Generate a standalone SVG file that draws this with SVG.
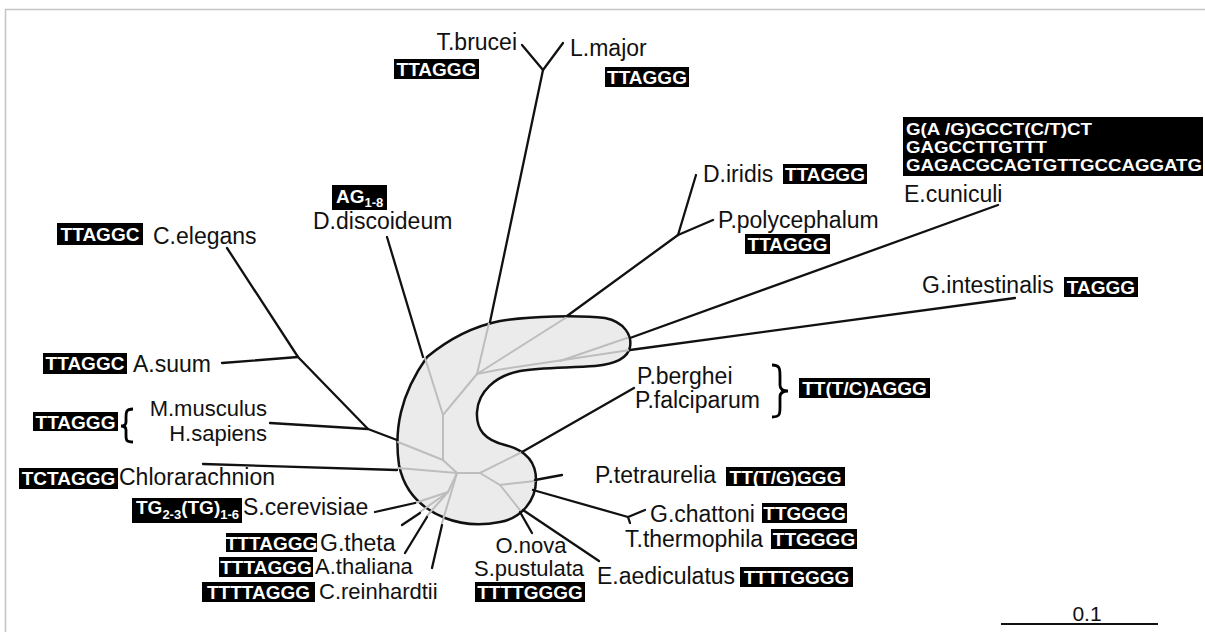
<svg xmlns="http://www.w3.org/2000/svg" width="1205" height="632" viewBox="0 0 1205 632">
<style>
.lbl{font-family:"Liberation Sans",Arial,sans-serif;font-size:23px;fill:#111}
.sm{font-size:22px}
.tg rect{fill:#000}
.tg text{font-family:"Liberation Sans",Arial,sans-serif;font-size:19px;font-weight:bold;fill:#fff;text-anchor:middle}
.br{stroke:#111;stroke-width:2.3;fill:none;stroke-linecap:round;stroke-linejoin:round}
.in{stroke:#bdbdbd;stroke-width:2;fill:none;stroke-linecap:round}
.bd{stroke:#c4c4c4;stroke-width:1.5}
.brace{stroke:#000;stroke-width:2.8;fill:none}
</style>
<rect width="1205" height="632" fill="#fff"/>
<g id="frame">
<line class="bd" x1="5" y1="9.5" x2="1205" y2="9.5"/>
<line class="bd" x1="5.5" y1="9" x2="5.5" y2="632"/>
</g>
<g id="core">
<path d="M427 357 C450 338 475 326 500 321 C530 316 580 315 605 318 C625 322 632 336 630 347 C628 358 615 364 595 366 C570 368 540 367 520 371 C495 376 478 392 477 412 C476 430 485 440 505 445 C525 450 536 462 536 480 C536 500 522 518 500 522 C480 526 460 524 445 518 C420 508 404 490 399 465 C394 430 400 395 427 357 Z" fill="#ebebeb" stroke="#111" stroke-width="2.5"/>
<g class="in">
<polyline points="425,358 443,415 477,374 489,323"/>
<line x1="477" y1="374" x2="567" y2="317"/>
<polyline points="477,374 497,370 630,350"/>
<line x1="560" y1="361" x2="627" y2="338"/>
<polyline points="443,415 443,460 457,473"/>
<line x1="398" y1="442" x2="443" y2="460"/>
<line x1="398" y1="468" x2="457" y2="473"/>
<polyline points="457,473 480,473 522,452"/>
<polyline points="480,473 500,485 535,481"/>
<line x1="500" y1="485" x2="520" y2="510"/>
<line x1="457" y1="473" x2="448" y2="492"/>
<line x1="448" y1="492" x2="415" y2="503"/>
<line x1="448" y1="492" x2="420" y2="512"/>
<line x1="448" y1="492" x2="427" y2="516"/>
<line x1="457" y1="473" x2="442" y2="523"/>
</g>
</g>
<g id="connectors" class="br">
<line x1="490" y1="322" x2="543" y2="70"/>
<polyline points="522,45 543,70 563,43"/>
<line x1="387" y1="237" x2="423" y2="357"/>
<polyline points="227,248 298,357 368,429 397,440"/>
<line x1="222" y1="363" x2="298" y2="357"/>
<line x1="270" y1="423" x2="368" y2="429"/>
<line x1="203" y1="464" x2="397" y2="470"/>
<line x1="375" y1="512" x2="415" y2="503"/>
<line x1="402" y1="525" x2="420" y2="513"/>
<line x1="405" y1="553" x2="427" y2="517"/>
<line x1="432" y1="568" x2="442" y2="525"/>
<line x1="520" y1="512" x2="532" y2="533"/>
<line x1="523" y1="510" x2="599" y2="561"/>
<line x1="533" y1="490" x2="628" y2="517"/>
<polyline points="645,510 628,517 630,523"/>
<line x1="535" y1="480" x2="562" y2="475"/>
<line x1="522" y1="452" x2="634" y2="388"/>
<line x1="630" y1="350" x2="1015" y2="298"/>
<line x1="630" y1="338" x2="998" y2="205"/>
<line x1="567" y1="316" x2="678" y2="235"/>
<line x1="678" y1="235" x2="696" y2="175"/>
<line x1="678" y1="235" x2="713" y2="220"/>
</g>
<g id="n-tbrucei"><text class="lbl" x="517" y="50" text-anchor="end">T.brucei</text>
<g class="tg"><rect x="394" y="59" width="85" height="20"/><text x="436.5" y="76">TTAGGG</text></g></g>
<g id="n-lmajor"><text class="lbl" x="570" y="56">L.major</text>
<g class="tg"><rect x="605" y="67" width="84" height="20"/><text x="647" y="84">TTAGGG</text></g></g>
<g id="n-diridis"><text class="lbl" x="703" y="182">D.iridis</text>
<g class="tg"><rect x="783" y="164" width="84" height="20"/><text x="825" y="181">TTAGGG</text></g></g>
<g id="n-ppoly"><text class="lbl" x="718" y="228">P.polycephalum</text>
<g class="tg"><rect x="745" y="234" width="85" height="20"/><text x="787.5" y="251">TTAGGG</text></g></g>
<g id="n-ecuniculi">
<g class="tg"><rect x="903" y="117" width="300" height="59"/>
<text x="906" y="135" style="text-anchor:start;font-size:17px" textLength="186" lengthAdjust="spacingAndGlyphs">G(A /G)GCCT(C/T)CT</text>
<text x="906" y="153" style="text-anchor:start;font-size:17px" textLength="141" lengthAdjust="spacingAndGlyphs">GAGCCTTGTTT</text>
<text x="906" y="171" style="text-anchor:start;font-size:17px" textLength="296" lengthAdjust="spacingAndGlyphs">GAGACGCAGTGTTGCCAGGATG</text></g>
<text class="lbl" x="904" y="202">E.cuniculi</text></g>
<g id="n-gintest"><text class="lbl" x="922" y="293">G.intestinalis</text>
<g class="tg"><rect x="1064" y="277" width="74" height="20"/><text x="1101" y="294">TAGGG</text></g></g>
<g id="n-plasmodium"><text class="lbl" x="637" y="384">P.berghei</text>
<text class="lbl" x="635" y="408">P.falciparum</text>
<path class="brace" d="M772 365 C780 365 780 369 780 376 L780 385 C780 389 783 391 788 391 C783 391 780 393 780 397 L780 407 C780 414 780 417 772 417"/>
<g class="tg"><rect x="799" y="378" width="131" height="20"/><text x="864.5" y="395">TT(T/C)AGGG</text></g></g>
<g id="n-ptetra"><text class="lbl" x="595" y="483">P.tetraurelia</text>
<g class="tg"><rect x="726" y="467" width="119" height="19"/><text x="785.5" y="483.5">TT(T/G)GGG</text></g></g>
<g id="n-gchattoni"><text class="lbl" x="650" y="522">G.chattoni</text>
<g class="tg"><rect x="762" y="503" width="85" height="20"/><text x="804.5" y="520">TTGGGG</text></g></g>
<g id="n-tthermo"><text class="lbl" x="625" y="547">T.thermophila</text>
<g class="tg"><rect x="771" y="529" width="86" height="20"/><text x="814" y="546">TTGGGG</text></g></g>
<g id="n-eaedic"><text class="lbl" x="597" y="584">E.aediculatus</text>
<g class="tg"><rect x="740" y="567" width="113" height="20"/><text x="796.5" y="584">TTTTGGGG</text></g></g>
<g id="n-onova"><text class="lbl sm" x="531" y="553" text-anchor="middle">O.nova</text>
<text class="lbl sm" x="529" y="576" text-anchor="middle">S.pustulata</text>
<g class="tg"><rect x="475" y="582" width="110" height="20"/><text x="530" y="599">TTTTGGGG</text></g></g>
<g id="n-creinh"><text class="lbl sm" x="319" y="599">C.reinhardtii</text>
<g class="tg"><rect x="202" y="582" width="113" height="20"/><text x="258.5" y="599">TTTTAGGG</text></g></g>
<g id="n-athal"><text class="lbl sm" x="315" y="574">A.thaliana</text>
<g class="tg"><rect x="219" y="557" width="94" height="20"/><text x="266" y="574">TTTAGGG</text></g></g>
<g id="n-gtheta"><text class="lbl" x="320" y="551">G.theta</text>
<g class="tg"><rect x="226" y="533" width="91" height="19"/><text x="271.5" y="549.5">TTTAGGG</text></g></g>
<g id="n-scerev"><text class="lbl" x="243" y="515">S.cerevisiae</text>
<g class="tg"><rect x="132" y="498" width="110" height="25"/><text x="136" y="514" style="text-anchor:start">TG<tspan font-size="13" dy="5">2-3</tspan><tspan dy="-5">(TG)</tspan><tspan font-size="13" dy="5">1-6</tspan></text></g></g>
<g id="n-chlor"><text class="lbl" x="119" y="485">Chlorarachnion</text>
<g class="tg"><rect x="19" y="468" width="99" height="21"/><text x="68.5" y="485">TCTAGGG</text></g></g>
<g id="n-mammals"><text class="lbl sm" x="267" y="416" text-anchor="end">M.musculus</text>
<text class="lbl sm" x="267" y="441" text-anchor="end">H.sapiens</text>
<path class="brace" d="M133 409 C126 409 126 412 126 418 L126 422 C126 425 124 426 121 426 C124 426 126 427 126 430 L126 435 C126 440 126 442 133 442"/>
<g class="tg"><rect x="33" y="412" width="85" height="19"/><text x="75.5" y="428.5">TTAGGG</text></g></g>
<g id="n-asuum"><text class="lbl" x="133" y="372">A.suum</text>
<g class="tg"><rect x="43" y="353" width="84" height="21"/><text x="85" y="370">TTAGGC</text></g></g>
<g id="n-celegans"><text class="lbl" x="153" y="244">C.elegans</text>
<g class="tg"><rect x="57" y="223" width="86" height="22"/><text x="100" y="241">TTAGGC</text></g></g>
<g id="n-ddisc"><text class="lbl" x="313" y="229">D.discoideum</text>
<g class="tg"><rect x="332" y="185" width="55" height="25"/><text x="336" y="203" style="text-anchor:start">AG<tspan font-size="13" dy="4">1-8</tspan></text></g></g>
<g id="scale">
<line x1="1001" y1="624" x2="1158" y2="624" stroke="#111" stroke-width="2"/>
<text x="1087" y="621" text-anchor="middle" style="font-family:'Liberation Sans',Arial,sans-serif;font-size:21px;fill:#111">0.1</text>
</g>
</svg>
